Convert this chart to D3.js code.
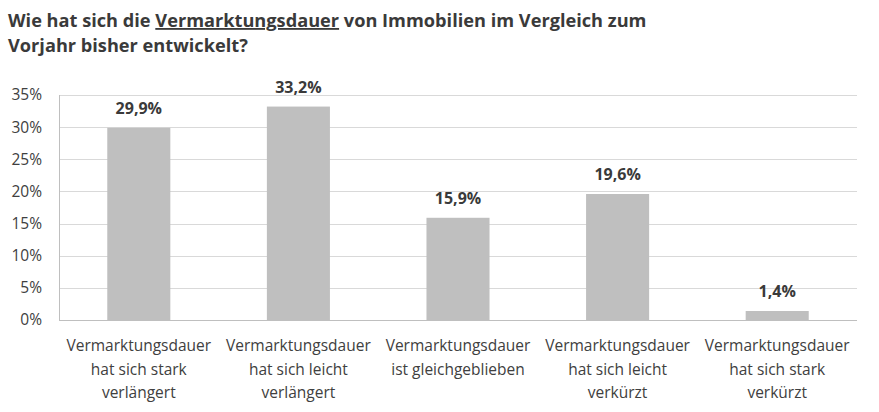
<!DOCTYPE html>
<html>
<head>
<meta charset="utf-8">
<script src="https://cdn.jsdelivr.net/npm/d3@7"></script>
<style>
  body { margin: 0; background: #fff; }
  svg { font-family: "Open Sans", "Noto Sans", sans-serif; }
</style>
</head>
<body>
<svg id="chart"></svg>
<script>
const categories = [
  ["Vermarktungsdauer", "hat sich stark", "verlängert"],
  ["Vermarktungsdauer", "hat sich leicht", "verlängert"],
  ["Vermarktungsdauer", "ist gleichgeblieben"],
  ["Vermarktungsdauer", "hat sich leicht", "verkürzt"],
  ["Vermarktungsdauer", "hat sich stark", "verkürzt"],
];
const values = [29.9, 33.2, 15.9, 19.6, 1.4];
const yTicks = [0, 5, 10, 15, 20, 25, 30, 35];

const width = 879;
const height = 412;
const margin = { top: 95, right: 22, bottom: 92, left: 59 };

const svg = d3.select("#chart").attr("width", width).attr("height", height);

// Title, with the underlined keyword
const title = svg.append("text")
  .attr("x", 8)
  .attr("y", 27)
  .attr("fill", "#3a3a3a")
  .attr("font-size", 18.2)
  .attr("font-weight", "bold");
title.append("tspan").text("Wie hat sich die ");
title.append("tspan").attr("text-decoration", "underline").text("Vermarktungsdauer");
title.append("tspan").text(" von Immobilien im Vergleich zum");
svg.append("text")
  .attr("x", 8)
  .attr("y", 52)
  .attr("fill", "#3a3a3a")
  .attr("font-size", 18.2)
  .attr("font-weight", "bold")
  .text("Vorjahr bisher entwickelt?");

const x = d3.scaleBand()
  .domain(d3.range(values.length))
  .range([margin.left, width - margin.right])
  .paddingInner(0.605)
  .paddingOuter(0.3025);

const y = d3.scaleLinear()
  .domain([0, 35])
  .range([height - margin.bottom, margin.top]);

// gridlines
svg.append("g")
  .selectAll("line")
  .data(yTicks.filter((d) => d > 0))
  .join("line")
  .attr("x1", margin.left)
  .attr("x2", width - margin.right)
  .attr("y1", (d) => Math.round(y(d)) + 0.5)
  .attr("y2", (d) => Math.round(y(d)) + 0.5)
  .attr("stroke", "#d9d9d9");

// left axis line
svg.append("line")
  .attr("x1", margin.left + 0.5)
  .attr("x2", margin.left + 0.5)
  .attr("y1", y(35))
  .attr("y2", y(0))
  .attr("stroke", "#bfbfbf");

// y labels
svg.append("g")
  .selectAll("text")
  .data(yTicks)
  .join("text")
  .attr("x", 42)
  .attr("y", (d) => y(d))
  .attr("dy", "0.35em")
  .attr("text-anchor", "end")
  .attr("fill", "#404040")
  .attr("font-size", 15.5)
  .text((d) => d + "%");

// bars
svg.append("g")
  .selectAll("rect")
  .data(values)
  .join("rect")
  .attr("x", (d, i) => x(i))
  .attr("width", x.bandwidth())
  .attr("y", (d) => y(d))
  .attr("height", (d) => y(0) - y(d))
  .attr("fill", "#bfbfbf");

// bottom axis line
svg.append("line")
  .attr("x1", margin.left)
  .attr("x2", width - margin.right)
  .attr("y1", Math.round(y(0)) + 0.5)
  .attr("y2", Math.round(y(0)) + 0.5)
  .attr("stroke", "#bfbfbf");

// value labels
svg.append("g")
  .selectAll("text")
  .data(values)
  .join("text")
  .attr("x", (d, i) => x(i) + x.bandwidth() / 2)
  .attr("y", (d) => y(d) - 14)
  .attr("text-anchor", "middle")
  .attr("fill", "#3a3a3a")
  .attr("font-size", 16)
  .attr("font-weight", "bold")
  .text((d) => d.toFixed(1).replace(".", ",") + "%");

// category labels
svg.append("g")
  .selectAll("text")
  .data(categories)
  .join("text")
  .attr("x", (d, i) => x(i) + x.bandwidth() / 2)
  .attr("y", 351)
  .attr("text-anchor", "middle")
  .attr("fill", "#404040")
  .attr("font-size", 15.5)
  .selectAll("tspan")
  .data((d) => d)
  .join("tspan")
  .attr("x", function () { return this.parentNode.getAttribute("x"); })
  .attr("dy", (d, i) => (i === 0 ? 0 : 23.5))
  .text((d) => d);
</script>
</body>
</html>
